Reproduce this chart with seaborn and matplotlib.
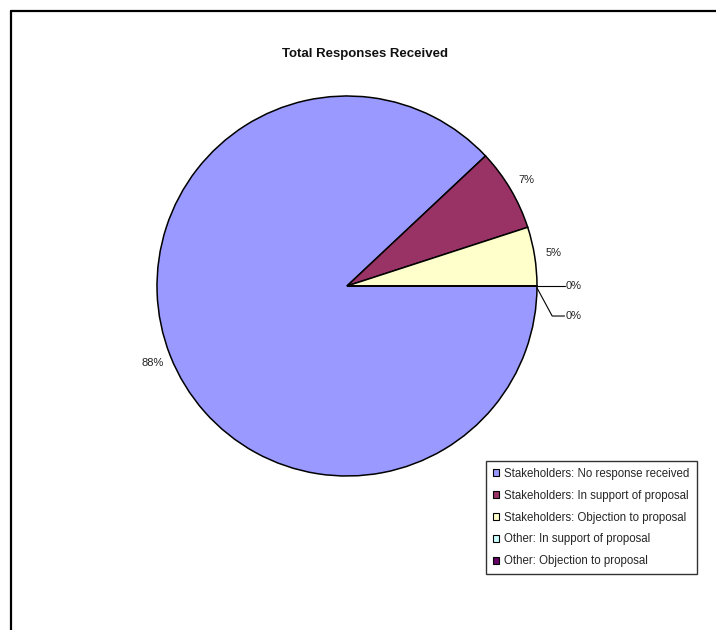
import numpy as np
import matplotlib
matplotlib.use("Agg")
import matplotlib.pyplot as plt
from matplotlib.patches import Patch
from matplotlib.lines import Line2D
import seaborn as sns

sns.set_theme(style="white")
plt.rcParams['font.family'] = ['Liberation Sans', 'DejaVu Sans']

categories = [
    "Stakeholders: No response received",
    "Stakeholders: In support of proposal",
    "Stakeholders: Objection to proposal",
    "Other: In support of proposal",
    "Other: Objection to proposal",
]
values = [88, 7, 5, 0, 0]
pct_labels = ["88%", "7%", "5%", "0%", "0%"]
colors = ["#9999FF", "#993366", "#FFFFCC", "#CCFFFF", "#660066"]

W, H = 716, 630
fig = plt.figure(figsize=(W / 100, H / 100), dpi=100)

# outer frame (top and left only visible)
fig.add_artist(Line2D([11 / W, 1.0], [1 - 11 / H, 1 - 11 / H], color="black", lw=1.6))
fig.add_artist(Line2D([11 / W, 11 / W], [1 - 11 / H, 0.0], color="black", lw=1.6))

cx, cy, r = 347, 286, 190
ax = fig.add_axes([(cx - r) / W, (H - cy - r) / H, 2 * r / W, 2 * r / H])
wedges, _ = ax.pie(values, colors=colors, startangle=0, counterclock=False,
                   radius=1.0, wedgeprops=dict(edgecolor="black", linewidth=1.1))
ax.set_xlim(-1, 1)
ax.set_ylim(-1, 1)
ax.set_aspect("auto")
ax.axis("off")

for i, w in enumerate(wedges):
    if values[i] > 0:
        mid = np.deg2rad((w.theta1 + w.theta2) / 2)
        ax.text(1.1 * np.cos(mid), 1.1 * np.sin(mid), pct_labels[i],
                ha="center", va="center", fontsize=8, color="#222222")

# zero-value labels with leader lines
zero_idx = [i for i, v in enumerate(values) if v == 0]
leader_targets = [[(1.0, 0.0), (1.145, 0.0)], [(1.0, -0.01), (1.08, -0.158), (1.145, -0.158)]]
for k, i in enumerate(zero_idx):
    pts = leader_targets[k]
    ax.plot([p[0] for p in pts], [p[1] for p in pts], color="black", lw=0.8, clip_on=False)
    ax.text(pts[-1][0] + 0.008, pts[-1][1], pct_labels[i], ha="left", va="center",
            fontsize=8, color="#222222", clip_on=False)

fig.text(365 / W, 1 - 54 / H, "Total Responses Received", ha="center", va="center",
         fontsize=9.5, fontweight="bold", color="#111111")

handles = [Patch(facecolor=c, edgecolor="black", linewidth=0.8) for c in colors]
leg = fig.legend(handles, categories, loc="upper left",
                 bbox_to_anchor=(486 / W, 1 - 461 / H), borderaxespad=0,
                 frameon=True, fancybox=False, fontsize=8.3,
                 handlelength=0.55, handleheight=0.55, handletextpad=0.45,
                 labelspacing=0.85, borderpad=0.6)
leg.get_frame().set_edgecolor("black")
leg.get_frame().set_linewidth(1.0)

fig.savefig("out.png", dpi=100)
